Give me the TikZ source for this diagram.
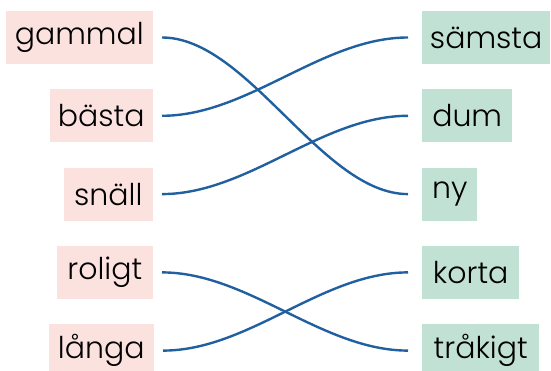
\documentclass[tikz,border=0pt]{standalone}
\usepackage{fontspec}
\setmainfont{Poppins Light}
\definecolor{pinkbox}{HTML}{FCE2DF}
\definecolor{greenbox}{HTML}{C2E1D5}
\definecolor{linkblue}{HTML}{2160A0}
\tikzset{
  word/.style={minimum height=53pt, inner sep=0pt, font=\fontsize{30}{36}\selectfont, text=black},
  leftword/.style={word, fill=pinkbox, anchor=east},
  rightword/.style={word, fill=greenbox, anchor=west},
  link/.style={draw=linkblue, line width=2.4pt}
}
\begin{document}
\begin{tikzpicture}[x=1pt,y=-1pt]
\path[use as bounding box] (0,0) rectangle (551,371);
% left column
\node[leftword, minimum width=147pt] (gammal) at (153,37.5) {gammal};
\node[leftword, minimum width=103pt] (basta) at (153,115.8) {bästa};
\node[leftword, minimum width=89pt] (snall) at (153,194.1) {snäll};
\node[leftword, minimum width=96pt] (roligt) at (153,272.4) {roligt};
\node[leftword, minimum width=105pt] (langa) at (154,350.6) {långa};
% right column
\node[rightword, minimum width=128pt] (samsta) at (422,37.5) {sämsta};
\node[rightword, minimum width=90pt] (dum) at (422,115.8) {dum};
\node[rightword, minimum width=55pt] (ny) at (422,194.1) {ny};
\node[rightword, minimum width=97pt] (korta) at (422,272.4) {korta};
\node[rightword, minimum width=117pt] (trakigt) at (422,350.6) {tråkigt};
% connector ends
\foreach \n in {gammal,basta,snall,roligt,langa}{
  \coordinate (\n-o) at ([xshift=9pt]\n.east);
}
\foreach \n in {samsta,dum,ny,korta,trakigt}{
  \coordinate (\n-i) at ([xshift=-14pt]\n.west);
}
\draw[link] (gammal-o) .. controls +(86,0) and +(-86,0) .. (ny-i);
\draw[link] (basta-o) .. controls +(86,0) and +(-86,0) .. (samsta-i);
\draw[link] (snall-o) .. controls +(86,0) and +(-86,0) .. (dum-i);
\draw[link] (roligt-o) .. controls +(86,0) and +(-86,0) .. (trakigt-i);
\draw[link] (langa-o) .. controls +(86,0) and +(-86,0) .. (korta-i);
\end{tikzpicture}
\end{document}
